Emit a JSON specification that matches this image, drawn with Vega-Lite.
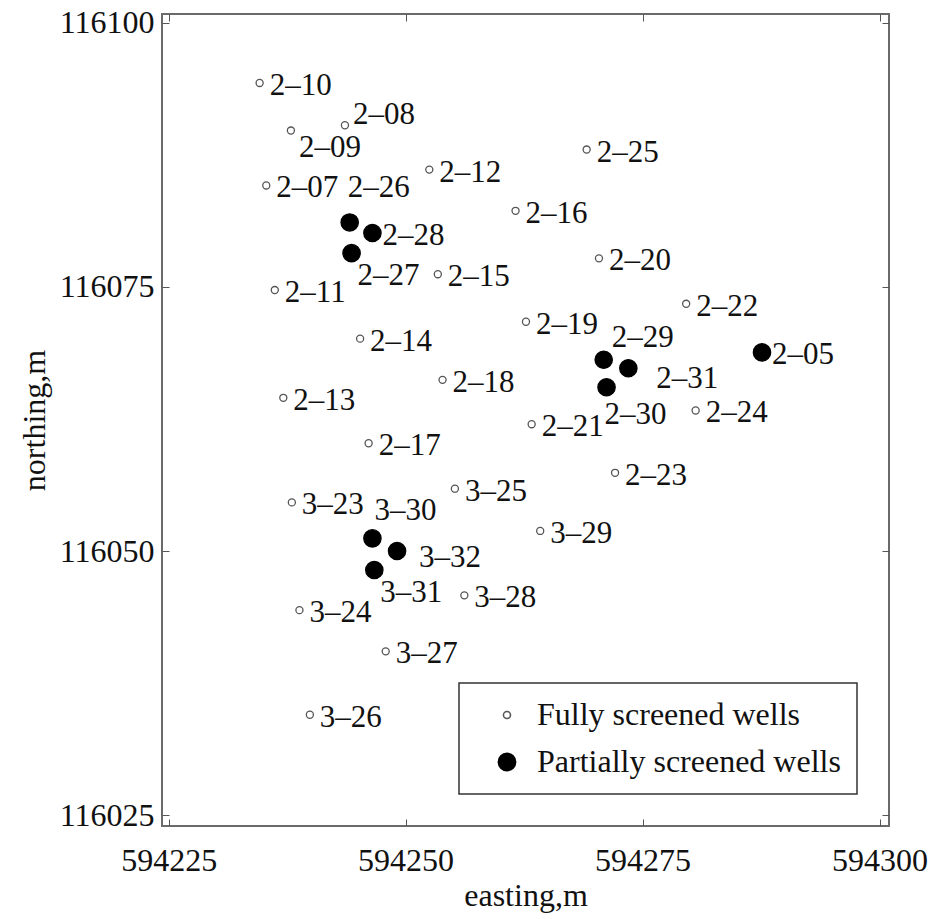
{
  "$schema": "https://vega.github.io/schema/vega-lite/v6.json",
  "autosize": {"type": "none"},
  "padding": {"left": 162, "top": 14, "right": 45, "bottom": 93},
  "width": 727,
  "height": 812,
  "background": "white",
  "config": {
    "font": "Liberation Serif",
    "view": {"stroke": "#6a6a6a", "strokeWidth": 2},
    "axis": {
      "grid": false,
      "domain": false,
      "tickColor": "#555",
      "tickSize": -7,
      "tickWidth": 1,
      "labelFont": "Liberation Serif",
      "labelFontSize": 32,
      "labelColor": "#111",
      "titleFont": "Liberation Serif",
      "titleFontWeight": "normal",
      "titleFontSize": 32,
      "titleColor": "#111"
    },
    "legend": {
      "orient": "none",
      "legendX": 297,
      "legendY": 669,
      "strokeColor": "#333",
      "strokeWidth": 1.5,
      "fillColor": "white",
      "padding": 16,
      "labelFont": "Liberation Serif",
      "labelFontSize": 32,
      "labelColor": "#111",
      "rowPadding": 15,
      "symbolOffset": 16,
      "labelOffset": 14,
      "labelLimit": 500
    }
  },
  "data": {
    "values": [
      {"well": "2–10", "easting": 594234.6, "northing": 116094.3, "type": "Fully screened wells"},
      {"well": "2–09", "easting": 594237.9, "northing": 116089.8, "type": "Fully screened wells"},
      {"well": "2–08", "easting": 594243.6, "northing": 116090.3, "type": "Fully screened wells"},
      {"well": "2–07", "easting": 594235.3, "northing": 116084.6, "type": "Fully screened wells"},
      {"well": "2–11", "easting": 594236.2, "northing": 116074.7, "type": "Fully screened wells"},
      {"well": "2–12", "easting": 594252.5, "northing": 116086.1, "type": "Fully screened wells"},
      {"well": "2–15", "easting": 594253.4, "northing": 116076.2, "type": "Fully screened wells"},
      {"well": "2–25", "easting": 594269.1, "northing": 116088.0, "type": "Fully screened wells"},
      {"well": "2–16", "easting": 594261.6, "northing": 116082.2, "type": "Fully screened wells"},
      {"well": "2–20", "easting": 594270.4, "northing": 116077.7, "type": "Fully screened wells"},
      {"well": "2–22", "easting": 594279.6, "northing": 116073.4, "type": "Fully screened wells"},
      {"well": "2–19", "easting": 594262.7, "northing": 116071.7, "type": "Fully screened wells"},
      {"well": "2–24", "easting": 594280.6, "northing": 116063.3, "type": "Fully screened wells"},
      {"well": "2–21", "easting": 594263.3, "northing": 116062.0, "type": "Fully screened wells"},
      {"well": "2–14", "easting": 594245.2, "northing": 116070.1, "type": "Fully screened wells"},
      {"well": "2–13", "easting": 594237.1, "northing": 116064.5, "type": "Fully screened wells"},
      {"well": "2–18", "easting": 594253.9, "northing": 116066.2, "type": "Fully screened wells"},
      {"well": "2–23", "easting": 594272.1, "northing": 116057.4, "type": "Fully screened wells"},
      {"well": "3–29", "easting": 594264.2, "northing": 116051.9, "type": "Fully screened wells"},
      {"well": "2–17", "easting": 594246.1, "northing": 116060.2, "type": "Fully screened wells"},
      {"well": "3–25", "easting": 594255.2, "northing": 116055.9, "type": "Fully screened wells"},
      {"well": "3–23", "easting": 594238.0, "northing": 116054.6, "type": "Fully screened wells"},
      {"well": "3–28", "easting": 594256.2, "northing": 116045.8, "type": "Fully screened wells"},
      {"well": "3–24", "easting": 594238.8, "northing": 116044.4, "type": "Fully screened wells"},
      {"well": "3–27", "easting": 594247.9, "northing": 116040.5, "type": "Fully screened wells"},
      {"well": "3–26", "easting": 594239.9, "northing": 116034.5, "type": "Fully screened wells"},
      {"well": "2–26", "easting": 594244.1, "northing": 116081.1, "type": "Partially screened wells"},
      {"well": "2–28", "easting": 594246.5, "northing": 116080.1, "type": "Partially screened wells"},
      {"well": "2–27", "easting": 594244.3, "northing": 116078.2, "type": "Partially screened wells"},
      {"well": "2–29", "easting": 594270.9, "northing": 116068.1, "type": "Partially screened wells"},
      {"well": "2–31", "easting": 594273.5, "northing": 116067.3, "type": "Partially screened wells"},
      {"well": "2–30", "easting": 594271.2, "northing": 116065.5, "type": "Partially screened wells"},
      {"well": "2–05", "easting": 594287.6, "northing": 116068.8, "type": "Partially screened wells"},
      {"well": "3–30", "easting": 594246.5, "northing": 116051.2, "type": "Partially screened wells"},
      {"well": "3–32", "easting": 594249.1, "northing": 116050.0, "type": "Partially screened wells"},
      {"well": "3–31", "easting": 594246.7, "northing": 116048.2, "type": "Partially screened wells"}
    ]
  },
  "layer": [
    {
      "mark": {"type": "point", "opacity": 0},
      "encoding": {
        "x": {"field": "easting", "type": "quantitative", "scale": {"domain": [594224.3, 594301], "nice": false, "zero": false}, "axis": {"orient": "top", "values": [594225, 594250, 594275, 594300], "labels": false, "title": null}},
        "y": {"field": "northing", "type": "quantitative", "scale": {"domain": [116023.97, 116100.83], "nice": false, "zero": false}, "axis": {"orient": "right", "values": [116025, 116050, 116075, 116100], "labels": false, "title": null}}
      }
    },
    {
      "mark": {"type": "point", "shape": "circle", "filled": true, "opacity": 1},
      "encoding": {
        "x": {"field": "easting", "type": "quantitative", "axis": {"orient": "bottom", "values": [594225, 594250, 594275, 594300], "format": "d", "labelPadding": 26, "title": "easting,m", "titlePadding": 4}},
        "y": {"field": "northing", "type": "quantitative", "axis": {"orient": "left", "values": [116025, 116050, 116075, 116100], "format": "d", "labelPadding": 15, "title": "northing,m", "titlePadding": 8}},
        "fill": {"field": "type", "type": "nominal", "scale": {"domain": ["Fully screened wells", "Partially screened wells"], "range": ["white", "black"]}, "legend": {"title": null}},
        "stroke": {"field": "type", "type": "nominal", "scale": {"domain": ["Fully screened wells", "Partially screened wells"], "range": ["#555555", "black"]}, "legend": {"title": null}},
        "size": {"field": "type", "type": "nominal", "scale": {"domain": ["Fully screened wells", "Partially screened wells"], "range": [50, 300]}, "legend": {"title": null}},
        "strokeWidth": {"value": 1.3}
      }
    },
    {
      "transform": [{"filter": {"not": {"field": "well", "oneOf": ["2–08", "2–09", "2–26", "2–27", "3–31", "2–29", "2–30", "2–31", "3–30", "3–32"]}}}],
      "mark": {"type": "text", "align": "left", "baseline": "middle", "dx": 10, "dy": 3, "fontSize": 31, "color": "#111"},
      "encoding": {"x": {"field": "easting", "type": "quantitative", "axis": null}, "y": {"field": "northing", "type": "quantitative", "axis": null}, "text": {"field": "well"}}
    },
    {
      "transform": [{"filter": {"field": "well", "equal": "2–08"}}],
      "mark": {"type": "text", "align": "left", "baseline": "middle", "dx": 8, "dy": -10, "fontSize": 31, "color": "#111"},
      "encoding": {"x": {"field": "easting", "type": "quantitative", "axis": null}, "y": {"field": "northing", "type": "quantitative", "axis": null}, "text": {"field": "well"}}
    },
    {
      "transform": [{"filter": {"field": "well", "equal": "2–09"}}],
      "mark": {"type": "text", "align": "left", "baseline": "middle", "dx": 8, "dy": 17, "fontSize": 31, "color": "#111"},
      "encoding": {"x": {"field": "easting", "type": "quantitative", "axis": null}, "y": {"field": "northing", "type": "quantitative", "axis": null}, "text": {"field": "well"}}
    },
    {
      "transform": [{"filter": {"field": "well", "equal": "2–26"}}],
      "mark": {"type": "text", "align": "left", "baseline": "middle", "dx": -2, "dy": -34, "fontSize": 31, "color": "#111"},
      "encoding": {"x": {"field": "easting", "type": "quantitative", "axis": null}, "y": {"field": "northing", "type": "quantitative", "axis": null}, "text": {"field": "well"}}
    },
    {
      "transform": [{"filter": {"field": "well", "oneOf": ["2–27", "3–31"]}}],
      "mark": {"type": "text", "align": "left", "baseline": "middle", "dx": 6, "dy": 23, "fontSize": 31, "color": "#111"},
      "encoding": {"x": {"field": "easting", "type": "quantitative", "axis": null}, "y": {"field": "northing", "type": "quantitative", "axis": null}, "text": {"field": "well"}}
    },
    {
      "transform": [{"filter": {"field": "well", "equal": "2–29"}}],
      "mark": {"type": "text", "align": "left", "baseline": "middle", "dx": 8, "dy": -22, "fontSize": 31, "color": "#111"},
      "encoding": {"x": {"field": "easting", "type": "quantitative", "axis": null}, "y": {"field": "northing", "type": "quantitative", "axis": null}, "text": {"field": "well"}}
    },
    {
      "transform": [{"filter": {"field": "well", "equal": "2–30"}}],
      "mark": {"type": "text", "align": "left", "baseline": "middle", "dx": -2, "dy": 28, "fontSize": 31, "color": "#111"},
      "encoding": {"x": {"field": "easting", "type": "quantitative", "axis": null}, "y": {"field": "northing", "type": "quantitative", "axis": null}, "text": {"field": "well"}}
    },
    {
      "transform": [{"filter": {"field": "well", "equal": "2–31"}}],
      "mark": {"type": "text", "align": "left", "baseline": "middle", "dx": 28, "dy": 11, "fontSize": 31, "color": "#111"},
      "encoding": {"x": {"field": "easting", "type": "quantitative", "axis": null}, "y": {"field": "northing", "type": "quantitative", "axis": null}, "text": {"field": "well"}}
    },
    {
      "transform": [{"filter": {"field": "well", "equal": "3–30"}}],
      "mark": {"type": "text", "align": "left", "baseline": "middle", "dx": 2, "dy": -27, "fontSize": 31, "color": "#111"},
      "encoding": {"x": {"field": "easting", "type": "quantitative", "axis": null}, "y": {"field": "northing", "type": "quantitative", "axis": null}, "text": {"field": "well"}}
    },
    {
      "transform": [{"filter": {"field": "well", "equal": "3–32"}}],
      "mark": {"type": "text", "align": "left", "baseline": "middle", "dx": 22, "dy": 7, "fontSize": 31, "color": "#111"},
      "encoding": {"x": {"field": "easting", "type": "quantitative", "axis": null}, "y": {"field": "northing", "type": "quantitative", "axis": null}, "text": {"field": "well"}}
    }
  ],
  "resolve": {"axis": {"x": "independent", "y": "independent"}}
}
